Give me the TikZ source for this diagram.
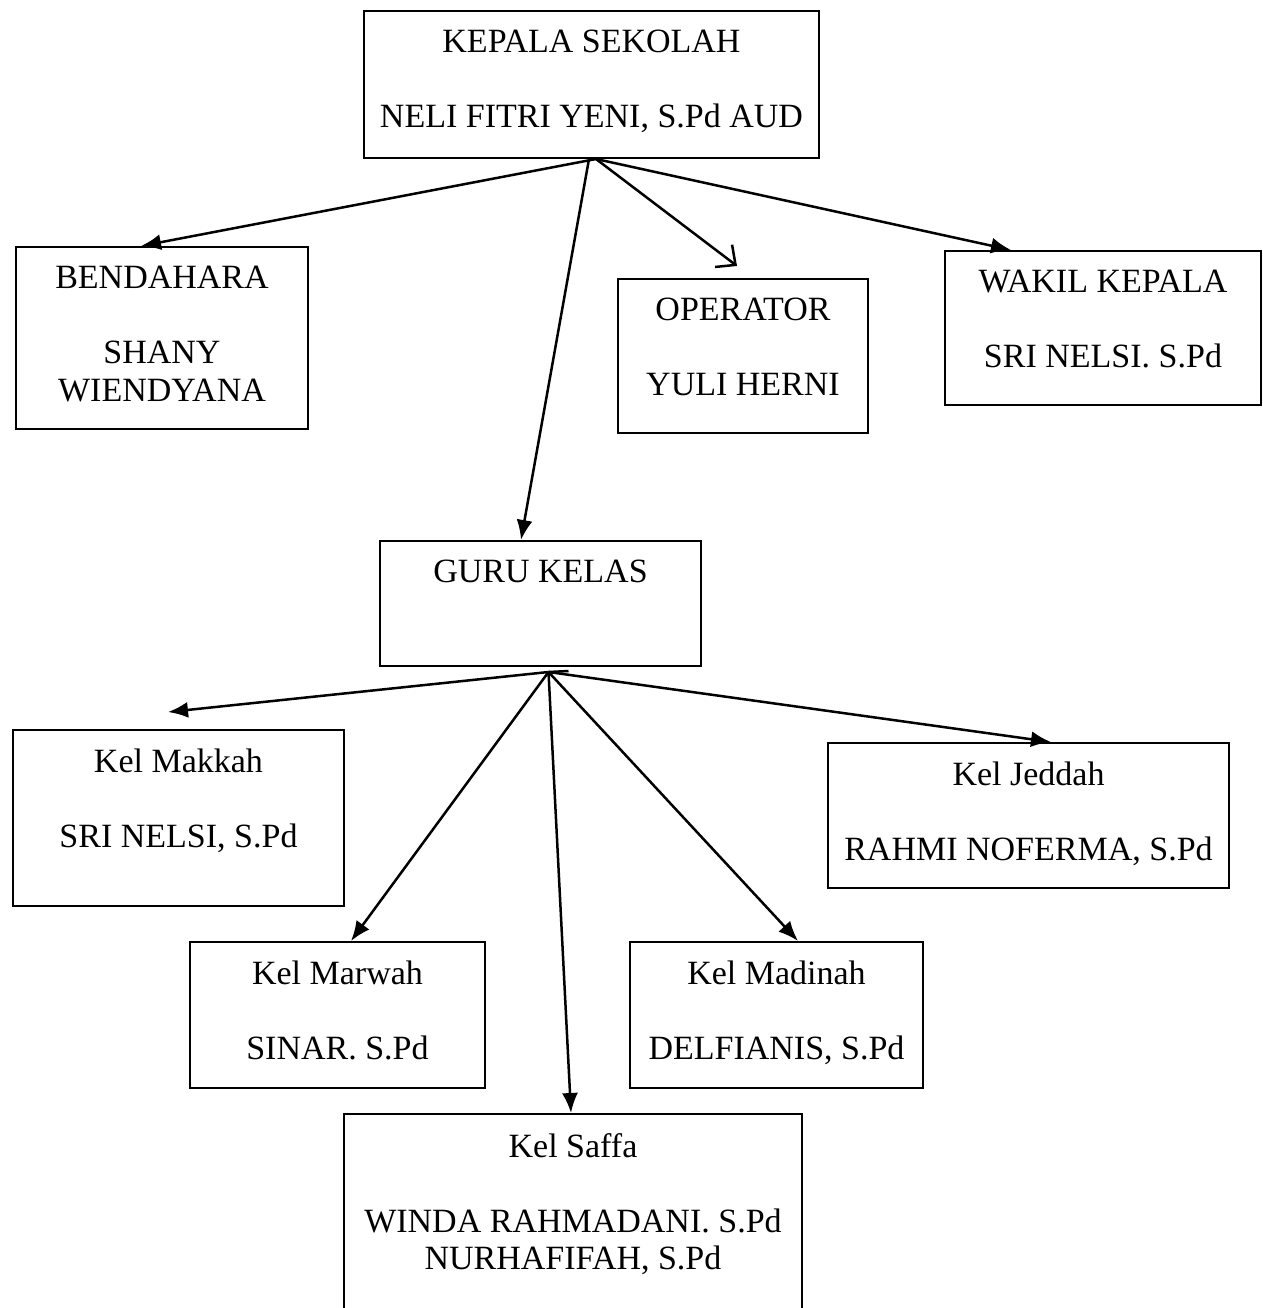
\documentclass[tikz,border=0pt]{standalone}
\usepackage{fontspec}
\setmainfont{Liberation Serif}
\usetikzlibrary{arrows.meta,positioning}

\tikzset{
  box/.style={draw, line width=2pt, anchor=north west, inner sep=0pt},
  txt/.style={align=center, inner sep=0pt, anchor=north,
    font=\fontsize{34}{37.5}\selectfont},
  arr/.style={-{Latex[length=20pt,width=16pt]}, line width=2.5pt},
  openarr/.style={-{Straight Barb[length=15pt,width=28pt]}, line width=2.5pt}
}

\begin{document}
\begin{tikzpicture}[x=1pt, y=-1pt]
    \useasboundingbox (0,0) rectangle (1262,1308);

    % boxes
    \node[box, minimum width=455, minimum height=147] (kepala) at (363,10) {};
    \node[box, minimum width=292, minimum height=182] (bend) at (15,246) {};
    \node[box, minimum width=250, minimum height=154] (oper) at (617,278) {};
    \node[box, minimum width=316, minimum height=154] (wakil) at (944,250) {};
    \node[box, minimum width=321, minimum height=125] (guru) at (379,540) {};
    \node[box, minimum width=331, minimum height=176] (makkah) at (12,729) {};
    \node[box, minimum width=401, minimum height=145] (jeddah) at (827,742) {};
    \node[box, minimum width=295, minimum height=146] (marwah) at (189,941) {};
    \node[box, minimum width=293, minimum height=146] (madinah) at (629,941) {};
    \node[box, minimum width=458, minimum height=220] (saffa) at (343,1113) {};

    % texts
    \node[txt, below=20pt of kepala.north] (kepalaT) {KEPALA SEKOLAH\\[37.5pt]NELI FITRI YENI, S.Pd AUD};
    \node[txt, below=20pt of bend.north] (bendT) {BENDAHARA\\[37.5pt]SHANY\\WIENDYANA};
    \node[txt, below=20pt of oper.north] (operT) {OPERATOR\\[37.5pt]YULI HERNI};
    \node[txt, below=20pt of wakil.north] (wakilT) {WAKIL KEPALA\\[37.5pt]SRI NELSI. S.Pd};
    \node[txt, below=20pt of guru.north] (guruT) {GURU KELAS};
    \node[txt, below=20pt of makkah.north] (makkahT) {Kel Makkah\\[37.5pt]SRI NELSI, S.Pd};
    \node[txt, below=20pt of jeddah.north] (jeddahT) {Kel Jeddah\\[37.5pt]RAHMI NOFERMA, S.Pd};
    \node[txt, below=20pt of marwah.north] (marwahT) {Kel Marwah\\[37.5pt]SINAR. S.Pd};
    \node[txt, below=20pt of madinah.north] (madinahT) {Kel Madinah\\[37.5pt]DELFIANIS, S.Pd};
    \node[txt, below=20pt of saffa.north] (saffaT) {Kel Saffa\\[37.5pt]WINDA RAHMADANI. S.Pd\\NURHAFIFAH, S.Pd};

    % connectors
    \coordinate (ksrc) at ([xshift=4.5pt]kepala.south);
    \coordinate (ksrc2) at ([xshift=-2.5pt]kepala.south);
    \coordinate (operEnd) at (737,266);
    \coordinate (gsrc) at ([xshift=8pt,yshift=-5pt]guru.south);
    \coordinate (gstub) at ([xshift=28pt,yshift=-4pt]guru.south);
    \coordinate (makkahEnd) at (168,712);

    \draw[arr] (ksrc) -- ([xshift=-21pt]bend.north);
    \draw[arr] (ksrc2) -- ([xshift=-19.5pt]guru.north);
    \draw[openarr] (ksrc) -- (operEnd);
    \draw[arr] (ksrc) -- ([xshift=-92pt]wakil.north);

    \draw[line width=2.5pt] (gsrc) -- (gstub);
    \draw[arr] (gsrc) -- (makkahEnd);
    \draw[arr] (gsrc) -- ([xshift=13.5pt]marwah.north);
    \draw[arr] (gsrc) -- ([xshift=-2pt]saffa.north);
    \draw[arr] (gsrc) -- ([xshift=21.5pt]madinah.north);
    \draw[arr] (gsrc) -- ([xshift=22.5pt]jeddah.north);
\end{tikzpicture}
\end{document}
